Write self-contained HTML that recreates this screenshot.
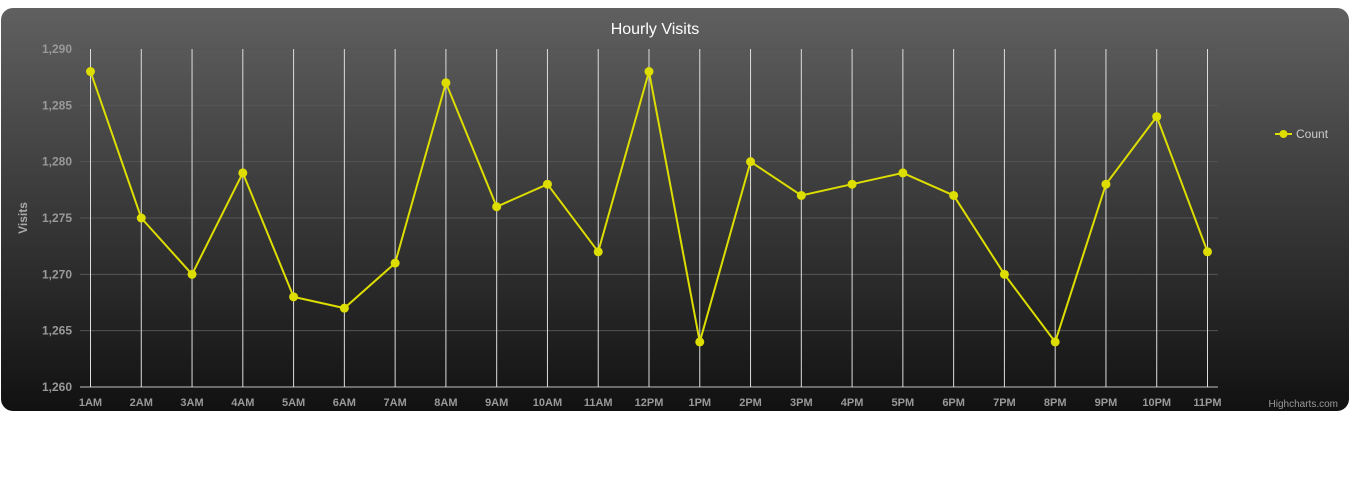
<!DOCTYPE html>
<html><head><meta charset="utf-8"><style>
body{margin:0;background:#fff;width:1357px;height:488px;overflow:hidden;font-family:"Liberation Sans",sans-serif}
</style></head><body>
<svg width="1357" height="488">
<defs><linearGradient id="bg" x1="0" y1="0" x2="0" y2="1"><stop offset="0" stop-color="#606060"/><stop offset="1" stop-color="#111"/></linearGradient></defs>
<rect x="1" y="8" width="1348" height="403" rx="12" fill="url(#bg)"/>
<text x="655" y="34" fill="#fff" font-size="16" text-anchor="middle">Hourly Visits</text>
<text x="27" y="218" fill="#aaa" font-size="12" font-weight="bold" text-anchor="middle" transform="rotate(-90 27 218)">Visits</text>
<g id="grid"></g><g id="series"></g>
<g>
<line x1="1275" y1="134" x2="1292" y2="134" stroke="#dddd00" stroke-width="2"/>
<circle cx="1283.5" cy="134" r="4" fill="#dddd00"/>
<text x="1296" y="138" fill="#ccc" font-size="12">Count</text></g>
<text x="1338" y="407" fill="#999" font-size="10" text-anchor="end">Highcharts.com</text>
</svg>
<script>
const categories=["1AM","2AM","3AM","4AM","5AM","6AM","7AM","8AM","9AM","10AM","11AM","12PM","1PM","2PM","3PM","4PM","5PM","6PM","7PM","8PM","9PM","10PM","11PM"];
const counts=[1288,1275,1270,1279,1268,1267,1271,1287,1276,1278,1272,1288,1264,1280,1277,1278,1279,1277,1270,1264,1278,1284,1272];
const yTicks=[1260,1265,1270,1275,1280,1285,1290];
const NS="http://www.w3.org/2000/svg";
const x=i=>90.5+i*(1207.5-90.5)/(categories.length-1);
const y=v=>387-(v-1260)*(387-49)/30;
function mk(t,a,p){const e=document.createElementNS(NS,t);for(const k in a)e.setAttribute(k,a[k]);p.appendChild(e);return e;}
const g=document.getElementById('grid'),s=document.getElementById('series');
yTicks.forEach(v=>{
 const l=mk('line',{x1:80,x2:1218,y1:y(v),y2:y(v),stroke:v===1260?'#c0c0c0':'#555','stroke-width':1},g);
 
 
 const t=mk('text',{x:72,y:y(v)+4,fill:'#999','font-size':12,'font-weight':'bold','text-anchor':'end'},g);
 t.textContent=v.toLocaleString('en-US');
 
 
});
categories.forEach((c,i)=>{
 const l=mk('line',{x1:x(i),x2:x(i),y1:49,y2:387,stroke:'#ddd','stroke-width':1},g);
 
 
 const t=mk('text',{x:x(i),y:406,fill:'#999','font-size':11,'font-weight':'bold','text-anchor':'middle'},g);
 t.textContent=c;
 
 
});
const p=mk('polyline',{points:counts.map((v,i)=>x(i)+','+y(v)).join(' '),fill:'none',stroke:'#dddd00','stroke-width':2},s);


counts.forEach((v,i)=>{
 const c=mk('circle',{cx:x(i),cy:y(v),r:4.5,fill:'#dddd00'},s);
 
 
});
</script>
</body></html>
